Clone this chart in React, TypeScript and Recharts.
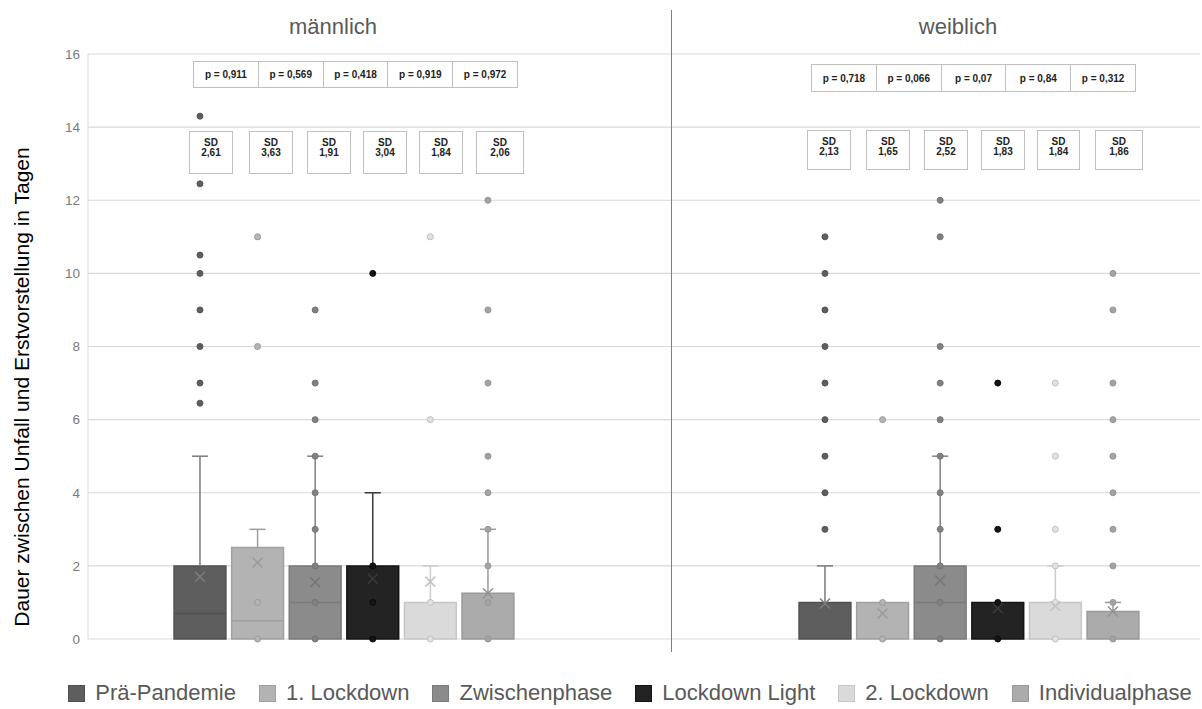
import { ComposedChart, Scatter, XAxis, YAxis, CartesianGrid, ReferenceArea, ReferenceLine } from 'recharts';

const phases = ['Prä-Pandemie', '1. Lockdown', 'Zwischenphase', 'Lockdown Light', '2. Lockdown', 'Individualphase'];
const groups = ['männlich', 'weiblich'];
const yTicks = [0, 2, 4, 6, 8, 10, 12, 14, 16];

// männlich
const q1Male = [0, 0, 0, 0, 0, 0];
const q3Male = [2, 2.5, 2, 2, 1, 1.25];
const medianMale = [0.7, 0.5, 1, 0, 0, 0];
const meanMale = [1.7, 2.09, 1.55, 1.65, 1.57, 1.25];
const whiskerMale = [5, 3, 5, 4, 2, 3];
const pointsMale = [
  [14.3, 12.45, 10.5, 10, 9, 8, 7, 6.45],
  [11, 8, 1, 0],
  [9, 7, 6, 5, 4, 3, 2, 1, 0],
  [10, 2, 1, 0],
  [11, 6, 1, 0],
  [12, 9, 7, 5, 4, 3, 2, 1, 0],
];
const pMale = ['p = 0,911', 'p = 0,569', 'p = 0,418', 'p = 0,919', 'p = 0,972'];
const sdMale = ['2,61', '3,63', '1,91', '3,04', '1,84', '2,06'];

// weiblich
const q1Female = [0, 0, 0, 0, 0, 0];
const q3Female = [1, 1, 2, 1, 1, 0.75];
const medianFemale = [0, 0, 1, 0, 0, 0];
const meanFemale = [0.97, 0.7, 1.6, 0.84, 0.9, 0.75];
const whiskerFemale = [2, 1, 5, 1, 2, 1];
const pointsFemale = [
  [11, 10, 9, 8, 7, 6, 5, 4, 3],
  [6, 1, 0],
  [12, 11, 8, 7, 6, 5, 4, 3, 2, 1, 0],
  [7, 3, 1, 0],
  [7, 5, 3, 2, 1, 0],
  [10, 9, 7, 6, 5, 4, 3, 2, 1, 0],
];
const pFemale = ['p = 0,718', 'p = 0,066', 'p = 0,07', 'p = 0,84', 'p = 0,312'];
const sdFemale = ['2,13', '1,65', '2,52', '1,83', '1,84', '1,86'];

// styling per phase
const boxFill = ['#5e5e5e', '#b3b3b3', '#8b8b8b', '#232323', '#dadada', '#ababab'];
const boxStroke = ['#505050', '#a0a0a0', '#7a7a7a', '#141414', '#c6c6c6', '#999999'];
const whiskerColor = ['#7a7a7a', '#9c9c9c', '#808080', '#3a3a3a', '#cccccc', '#9a9a9a'];
const meanColor = ['#7d7d7d', '#9a9a9a', '#757575', '#3a3a3a', '#c2c2c2', '#909090'];
const pointFill = ['#5e5e5e', '#b5b5b5', '#818181', '#141414', '#e2e2e2', '#a3a3a3'];
const pointStroke = ['#555555', '#9a9a9a', '#747474', '#0a0a0a', '#c0c0c0', '#959595'];

const FONT = '"Liberation Sans", Arial, sans-serif';
const groupStart = [1.944, 12.795];
const xMax = 19.306;
const half = 0.45;
const cap = 0.14;

const stats = [
  { q1: q1Male, q3: q3Male, med: medianMale, mean: meanMale, wh: whiskerMale, pts: pointsMale },
  { q1: q1Female, q3: q3Female, med: medianFemale, mean: meanFemale, wh: whiskerFemale, pts: pointsFemale },
];

const Dot = (props: any) => {
  const { cx, cy, fill, stroke } = props;
  return <circle cx={cx} cy={cy} r={3} fill={fill} stroke={stroke} strokeWidth={1} />;
};

const MeanX = (color: string) => (props: any) => {
  const { cx, cy } = props;
  const s = 5;
  return (
    <g stroke={color} strokeWidth={1.5}>
      <line x1={cx - s} y1={cy - s} x2={cx + s} y2={cy + s} />
      <line x1={cx - s} y1={cy + s} x2={cx + s} y2={cy - s} />
    </g>
  );
};

const pTableLeft = [193, 811];
const pTableTop = [61, 64];
const pTableCell = [65.8, 65.8];
const pTableHeight = [27, 28];
const pTexts = [pMale, pFemale];
const sdLeft = [
  [189, 249, 307, 363, 419, 476],
  [807, 866, 924, 981, 1037, 1095],
];
const sdWidth = [
  [44, 44, 44, 44, 44, 48],
  [44, 44, 44, 44, 43, 48],
];
const sdTop = [131, 130];
const sdHeight = [43, 40];
const sdTexts = [sdMale, sdFemale];
const titleCenter = [333, 958];

export default function App() {
  const areas: any[] = [];
  const lines: any[] = [];
  stats.forEach((g, gi) => {
    phases.forEach((_, i) => {
      const x = groupStart[gi] + i;
      areas.push(
        <ReferenceArea
          key={`box-${gi}-${i}`}
          x1={x - half}
          x2={x + half}
          y1={g.q1[i]}
          y2={g.q3[i]}
          fill={boxFill[i]}
          fillOpacity={1}
          stroke={boxStroke[i]}
          strokeWidth={1.5}
        />
      );
      if (g.wh[i] > g.q3[i]) {
        lines.push(
          <ReferenceLine
            key={`wh-${gi}-${i}`}
            segment={[{ x, y: g.q3[i] }, { x, y: g.wh[i] }]}
            stroke={whiskerColor[i]}
            strokeWidth={1.5}
          />,
          <ReferenceLine
            key={`cap-${gi}-${i}`}
            segment={[{ x: x - cap, y: g.wh[i] }, { x: x + cap, y: g.wh[i] }]}
            stroke={whiskerColor[i]}
            strokeWidth={1.5}
          />
        );
      }
      if (g.med[i] > g.q1[i] && g.med[i] < g.q3[i]) {
        lines.push(
          <ReferenceLine
            key={`med-${gi}-${i}`}
            segment={[{ x: x - half, y: g.med[i] }, { x: x + half, y: g.med[i] }]}
            stroke={boxStroke[i]}
            strokeWidth={1.5}
          />
        );
      }
    });
  });

  const pointData = phases.map((_, i) =>
    stats.flatMap((g, gi) => g.pts[i].map((v) => ({ x: groupStart[gi] + i, y: v })))
  );
  const meanData = phases.map((_, i) =>
    stats.map((g, gi) => ({ x: groupStart[gi] + i, y: g.mean[i] }))
  );

  return (
    <div style={{ position: 'absolute', left: 0, top: 0, width: 1202, height: 709, fontFamily: FONT, background: '#fff' }}>
      <ComposedChart width={1202} height={709} margin={{ top: 54, right: 2, bottom: 70, left: 0 }}>
        <CartesianGrid vertical={false} stroke="#d9d9d9" strokeWidth={1.2} />
        <XAxis dataKey="x" type="number" domain={[0, xMax]} hide />
        <YAxis
          dataKey="y"
          type="number"
          domain={[0, 16]}
          ticks={yTicks}
          width={88}
          tickLine={false}
          axisLine={{ stroke: '#d9d9d9' }}
          tick={{ fill: '#7a7a7a', fontSize: 13.5, fontFamily: FONT }}
        />
        {areas}
        {lines}
        {phases.map((p, i) => (
          <Scatter
            key={`pts-${i}`}
            name={p}
            data={pointData[i]}
            fill={pointFill[i]}
            stroke={pointStroke[i]}
            shape={Dot}
            isAnimationActive={false}
          />
        ))}
        {phases.map((p, i) => (
          <Scatter
            key={`mean-${i}`}
            name={`${p} Mittelwert`}
            data={meanData[i]}
            shape={MeanX(meanColor[i])}
            isAnimationActive={false}
          />
        ))}
      </ComposedChart>

      {/* y-axis title */}
      <div
        style={{
          position: 'absolute',
          left: 22,
          top: 387,
          transform: 'translate(-50%, -50%) rotate(-90deg)',
          whiteSpace: 'nowrap',
          fontSize: 21,
          color: '#000',
        }}
      >
        Dauer zwischen Unfall und Erstvorstellung in Tagen
      </div>

      {/* group titles */}
      {groups.map((g, gi) => (
        <div
          key={g}
          style={{
            position: 'absolute',
            left: titleCenter[gi] - 100,
            width: 200,
            top: 14,
            textAlign: 'center',
            fontSize: 22,
            color: '#595959',
          }}
        >
          {g}
        </div>
      ))}

      {/* separator */}
      <div style={{ position: 'absolute', left: 670.5, top: 10, width: 1, height: 642, background: '#7f7f7f' }} />

      {/* p-values */}
      {pTexts.map((row, gi) => (
        <div
          key={`p-${gi}`}
          style={{ position: 'absolute', left: pTableLeft[gi], top: pTableTop[gi], display: 'flex', background: '#fff' }}
        >
          {row.map((t, k) => (
            <div
              key={k}
              style={{
                width: pTableCell[gi],
                height: pTableHeight[gi],
                boxSizing: 'border-box',
                border: '1px solid #bfbfbf',
                marginLeft: k === 0 ? 0 : -1,
                display: 'flex',
                alignItems: 'center',
                justifyContent: 'center',
                fontSize: 10,
                fontWeight: 'bold',
                color: '#222',
              }}
            >
              {t}
            </div>
          ))}
        </div>
      ))}

      {/* SD boxes */}
      {sdTexts.map((row, gi) =>
        row.map((t, k) => (
          <div
            key={`sd-${gi}-${k}`}
            style={{
              position: 'absolute',
              left: sdLeft[gi][k],
              top: sdTop[gi],
              width: sdWidth[gi][k],
              height: sdHeight[gi],
              boxSizing: 'border-box',
              border: '1px solid #bfbfbf',
              background: '#fff',
              textAlign: 'center',
              fontSize: 10,
              fontWeight: 'bold',
              lineHeight: '10px',
              paddingTop: 6,
              color: '#222',
            }}
          >
            SD
            <br />
            {t}
          </div>
        ))
      )}

      {/* legend */}
      <div
        style={{
          position: 'absolute',
          left: 0,
          width: 1202,
          top: 680,
          display: 'flex',
          justifyContent: 'center',
          paddingLeft: 58,
          boxSizing: 'border-box',
          fontSize: 22,
          color: '#595959',
          lineHeight: '26px',
        }}
      >
        {phases.map((p, i) => (
          <div key={p} style={{ display: 'flex', alignItems: 'center', marginLeft: i === 0 ? 0 : 23 }}>
            <span
              style={{
                display: 'inline-block',
                width: 17,
                height: 17,
                boxSizing: 'border-box',
                background: boxFill[i],
                border: `1px solid ${boxStroke[i]}`,
                marginRight: 10,
              }}
            />
            {p}
          </div>
        ))}
      </div>
    </div>
  );
}
